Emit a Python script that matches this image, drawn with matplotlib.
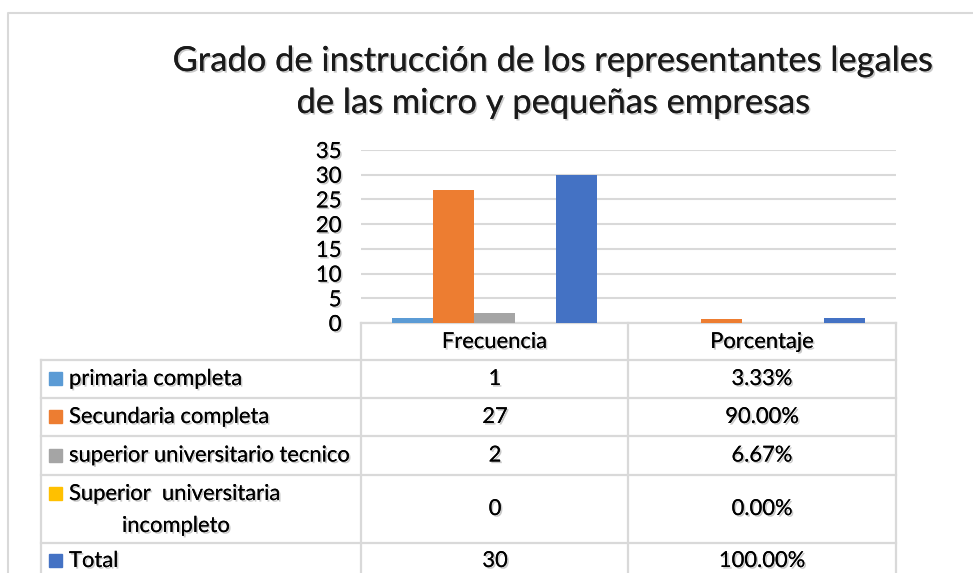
#!/usr/bin/env python3

import matplotlib.pyplot as plt
import matplotlib.patheffects as pe
import numpy as np

plt.rcParams['font.family'] = ['Lato', 'DejaVu Sans']

# data
categories = ['Frecuencia', 'Porcentaje']
series_names = ['primaria completa', 'Secundaria completa', 'superior universitario tecnico',
                'Superior  universitaria\nincompleto', 'Total']
frecuencia = [1, 27, 2, 0, 30]
porcentaje = [0.0333, 0.90, 0.0667, 0.0, 1.0]
porcentaje_labels = ['3.33%', '90.00%', '6.67%', '0.00%', '100.00%']
colors = ['#5B9BD5', '#ED7D31', '#A5A5A5', '#FFC000', '#4472C4']

W, H = 973, 573
fig = plt.figure(figsize=(W / 100, H / 100), dpi=100)

shadow = [pe.withSimplePatchShadow(offset=(1.2, -1.2), shadow_rgbFace='#888888', alpha=0.45), pe.Normal()]
grid_c = '#D9D9D9'

# overlay in pixel coords for frame + table
ov = fig.add_axes([0, 0, 1, 1])
ov.set_xlim(0, W)
ov.set_ylim(H, 0)
ov.axis('off')

# chart border
ov.plot([8, 8, W + 5], [H + 5, 13, 13], color=grid_c, lw=1.5)

# title
ov.text(554, 61, 'Grado de instrucción de los representantes legales', ha='center', va='center',
        fontsize=24.8, color='#1a1a1a', path_effects=shadow)
ov.text(554, 103, 'de las micro y pequeñas empresas', ha='center', va='center',
        fontsize=24.8, color='#1a1a1a', path_effects=shadow)

# bar chart
x0, x1 = 361, 896
y0, y1 = 323, 150
ax = fig.add_axes([x0 / W, (H - y0) / H, (x1 - x0) / W, (y0 - y1) / H])
xs = np.arange(len(categories))
bw = 0.153
for i in range(len(series_names)):
    vals = [frecuencia[i], porcentaje[i]]
    ax.bar(xs + (i - 2) * bw, vals, width=bw, color=colors[i], zorder=3)
ax.set_xlim(-0.5, 1.5)
ax.set_ylim(0, 35)
ax.set_yticks(range(0, 36, 5))
ax.set_xticks([])
ax.grid(axis='y', color=grid_c, lw=1.5, zorder=0)
for s in ax.spines.values():
    s.set_visible(False)
ax.tick_params(axis='y', length=0, pad=14, labelsize=16)
for t in ax.get_yticklabels():
    t.set_path_effects(shadow)
ax.patch.set_alpha(0)

# data table
col_x = [41, 361, 628, 896]
row_y = [323, 360, 398, 436, 475, 543, 600]
lc = dict(color=grid_c, lw=1.6, clip_on=True)
ov.plot([361, 896], [323, 323], **lc)
for cx in col_x[1:]:
    ov.plot([cx, cx], [323, H + 5], **lc)
ov.plot([41, 41], [360, H + 5], **lc)
for ry in row_y[1:-1]:
    ov.plot([41, 896], [ry, ry], **lc)

fs = 15.8
for j, cat in enumerate(categories):
    ov.text((col_x[j + 1] + col_x[j + 2]) / 2, 342, cat, ha='center', va='center',
            fontsize=fs, path_effects=shadow)

for i, name in enumerate(series_names):
    top, bot = row_y[i + 1], row_y[i + 2]
    cy = (top + bot) / 2 if i < 4 else 561
    lines = name.split('\n')
    if len(lines) == 1:
        ov.add_patch(plt.Rectangle((49, cy - 7), 13, 13, color=colors[i]))
        ov.text(69, cy, name, ha='left', va='center', fontsize=fs, path_effects=shadow)
    else:
        ov.add_patch(plt.Rectangle((49, top + 12), 13, 13, color=colors[i]))
        ov.text(69, top + 19, lines[0], ha='left', va='center', fontsize=fs, path_effects=shadow)
        ov.text(122, top + 51, lines[1], ha='left', va='center', fontsize=fs, path_effects=shadow)
    ov.text(495, cy, str(frecuencia[i]), ha='center', va='center', fontsize=fs, path_effects=shadow)
    ov.text(762, cy, porcentaje_labels[i], ha='center', va='center', fontsize=fs, path_effects=shadow)

fig.savefig('out.png', dpi=100)
plt.close(fig)
